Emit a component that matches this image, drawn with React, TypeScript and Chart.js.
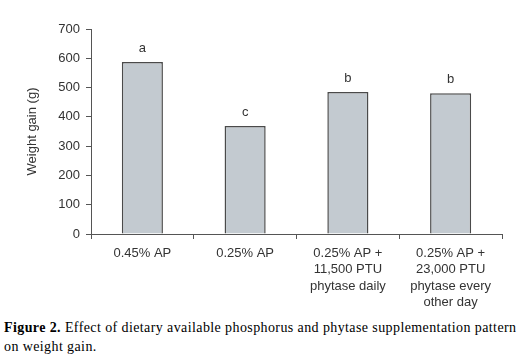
import React, { useEffect, useRef } from "react";
import { Chart, registerables } from "chart.js";

Chart.register(...registerables);

const categories: string[][] = [
  ["0.45% AP"],
  ["0.25% AP"],
  ["0.25% AP +", "11,500 PTU", "phytase daily"],
  ["0.25% AP +", "23,000 PTU", "phytase every", "other day"],
];
const weightGain: number[] = [587, 369, 485, 481];
const letters: string[] = ["a", "c", "b", "b"];
const yTicks: number[] = [0, 100, 200, 300, 400, 500, 600, 700];
const yTitle = "Weight gain (g)";

const FONT = "Arial, 'Liberation Sans', sans-serif";
const TEXT = "#333333";
const AXIS = "#555555";

const letterPlugin = {
  id: "letters",
  afterDatasetsDraw(chart: any) {
    const meta = chart.getDatasetMeta(0);
    const ctx = chart.ctx;
    ctx.save();
    ctx.font = `13px ${FONT}`;
    ctx.fillStyle = TEXT;
    ctx.textAlign = "center";
    ctx.textBaseline = "middle";
    meta.data.forEach((bar: any, i: number) => {
      ctx.fillText(letters[i], bar.x, bar.y - 14);
    });
    ctx.restore();
  },
};

export default function App() {
  const ref = useRef<HTMLCanvasElement>(null);
  useEffect(() => {
    if (!ref.current) return;
    const chart = new Chart(ref.current, {
      type: "bar",
      data: {
        labels: categories,
        datasets: [
          {
            data: weightGain,
            backgroundColor: "#C3CAD0",
            borderColor: "#4a4a4a",
            borderWidth: 1.5,
            categoryPercentage: 0.4,
            barPercentage: 1,
          },
        ],
      },
      options: {
        animation: false,
        responsive: false,
        maintainAspectRatio: false,
        layout: { padding: { left: 0, right: 18, top: 29, bottom: 0 } },
        plugins: { legend: { display: false }, tooltip: { enabled: false } },
        scales: {
          x: {
            offset: true,
            grid: {
              offset: true,
              drawOnChartArea: false,
              drawTicks: true,
              tickLength: 5,
              color: AXIS,
              lineWidth: 1,
            },
            border: { color: AXIS, width: 1 },
            ticks: {
              color: TEXT,
              font: { family: FONT, size: 13, lineHeight: 1.27 },
              padding: 6,
              maxRotation: 0,
              autoSkip: false,
            },
            afterFit(scale: any) {
              scale.height = 80;
            },
          },
          y: {
            min: 0,
            max: 700,
            afterBuildTicks(scale: any) {
              scale.ticks = yTicks.map((v) => ({ value: v }));
            },
            grid: {
              drawOnChartArea: false,
              drawTicks: true,
              tickLength: 5,
              color: AXIS,
              lineWidth: 1,
            },
            border: { color: AXIS, width: 1 },
            ticks: {
              color: TEXT,
              font: { family: FONT, size: 13 },
              padding: 6,
            },
            title: {
              display: true,
              text: yTitle,
              color: TEXT,
              font: { family: FONT, size: 13 },
              padding: { top: 25, bottom: 0 },
            },
            afterFit(scale: any) {
              scale.width = 91;
            },
          },
        },
      },
      plugins: [letterPlugin],
    });
    return () => chart.destroy();
  }, []);

  return (
    <div
      style={{
        position: "absolute",
        left: 0,
        top: 0,
        width: 520,
        height: 359,
        background: "#ffffff",
        overflow: "hidden",
      }}
    >
      <canvas ref={ref} width={520} height={314} style={{ display: "block" }} />
      <div
        style={{
          position: "absolute",
          left: 4,
          top: 318,
          width: 540,
          fontFamily: "'Liberation Serif', 'Times New Roman', serif",
          fontSize: 14,
          letterSpacing: "0.4px",
          lineHeight: "19px",
          color: "#000",
          whiteSpace: "nowrap",
        }}
      >
        <b>Figure 2.</b> Effect of dietary available phosphorus and phytase supplementation pattern
        <br />
        on weight gain.
      </div>
    </div>
  );
}
